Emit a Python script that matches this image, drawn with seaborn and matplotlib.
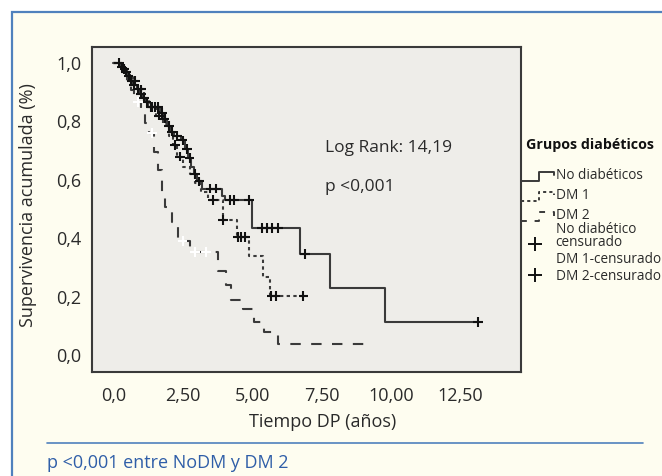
import numpy as np
import pandas as pd
import matplotlib
matplotlib.use("Agg")
import matplotlib.pyplot as plt
import seaborn as sns
from matplotlib.lines import Line2D
from matplotlib.patches import Rectangle
from matplotlib.legend_handler import HandlerBase

# ---------------- data ----------------
group_names = ["No diabéticos", "DM 1", "DM 2"]
censor_names = ["No diabético\ncensurado", "DM 1-censurado", "DM 2-censurado"]
legend_title = "Grupos diabéticos"

nodm_times = [0.0, 0.25, 0.4, 0.5, 0.6, 0.7, 0.85, 0.95, 1.05, 1.15, 1.25, 1.7, 1.8,
              1.93, 2.05, 2.2, 2.45, 2.6, 2.7, 2.8, 2.9, 3.0, 3.2, 3.9, 4.02, 5.0,
              6.73, 7.8, 9.79]
nodm_surv = [1.0, 0.985, 0.97, 0.955, 0.94, 0.925, 0.91, 0.895, 0.88, 0.865, 0.85, 0.83,
             0.81, 0.785, 0.765, 0.75, 0.735, 0.705, 0.675, 0.645, 0.62, 0.595, 0.57,
             0.545, 0.531, 0.435, 0.346, 0.23, 0.113]
nodm_end = 13.13
nodm_cens = [0.2, 0.3, 0.45, 0.55, 0.65, 0.75, 0.9, 1.0, 1.1, 1.2, 1.35, 1.5, 1.6, 1.75,
             1.85, 2.0, 2.1, 2.3, 2.5, 2.65, 2.75, 2.95, 3.1, 3.5, 3.7, 4.2, 4.35, 4.9,
             5.36, 5.54, 5.72, 5.93, 6.9, 13.13]

dm1_times = [0.0, 0.3, 0.5, 0.7, 0.9, 1.1, 1.3, 1.55, 1.8, 2.0, 2.15, 2.3, 2.5, 2.75,
             2.95, 3.15, 3.4, 3.95, 4.45, 4.89, 5.39, 5.64]
dm1_surv = [1.0, 0.98, 0.96, 0.94, 0.91, 0.88, 0.85, 0.82, 0.79, 0.75, 0.72, 0.68, 0.645,
            0.62, 0.59, 0.56, 0.53, 0.462, 0.404, 0.339, 0.267, 0.202]
dm1_end = 6.85
dm1_cens = [0.4, 0.8, 1.0, 1.4, 1.65, 2.22, 2.4, 3.6, 3.95, 4.5, 4.6, 4.75, 5.7, 5.85, 6.85]

dm2_times = [0.0, 0.3, 0.5, 0.65, 0.75, 1.0, 1.15, 1.3, 1.45, 1.6, 1.76, 1.85, 2.11,
             2.33, 2.75, 3.78, 4.06, 4.24, 4.67, 5.07, 5.43, 5.94]
dm2_surv = [1.0, 0.97, 0.94, 0.907, 0.866, 0.83, 0.795, 0.76, 0.695, 0.633, 0.558, 0.507,
            0.455, 0.39, 0.353, 0.288, 0.24, 0.19, 0.157, 0.113, 0.08, 0.037]
dm2_end = 9.05
dm2_cens = [0.9, 1.4, 2.5, 2.95, 3.35]

x_ticks = [0.0, 2.5, 5.0, 7.5, 10.0, 12.5]
x_ticklabels = ["0,0", "2,50", "5,00", "7,50", "10,00", "12,50"]
y_ticks = [0.0, 0.2, 0.4, 0.6, 0.8, 1.0]
y_ticklabels = ["0,0", "0,2", "0,4", "0,6", "0,8", "1,0"]

# ---------------- build tables ----------------
curve_rows = []
cens_rows = []
for name, tt, ss, end, cc in [
    (group_names[0], nodm_times, nodm_surv, nodm_end, nodm_cens),
    (group_names[1], dm1_times, dm1_surv, dm1_end, dm1_cens),
    (group_names[2], dm2_times, dm2_surv, dm2_end, dm2_cens),
]:
    for t, s in zip(list(tt) + [end], list(ss) + [ss[-1]]):
        curve_rows.append({"t": t, "s": s, "group": name})
    tt_a = np.asarray(tt)
    for c in cc:
        idx = np.searchsorted(tt_a, c, side="right") - 1
        cens_rows.append({"t": c, "s": ss[idx], "group": name})
curves = pd.DataFrame(curve_rows)
cens = pd.DataFrame(cens_rows)

# ---------------- style ----------------
sns.set_theme(style="white")
plt.rcParams["font.family"] = ["Open Sans", "DejaVu Sans"]

W, H = 662, 476
fig = plt.figure(figsize=(W / 100, H / 100), dpi=100, facecolor="white")

cream = "#fefdf0"
blue = "#4f81bd"
ink = "#2a2a2a"
line_col = "#3a3a3a"

fig.add_artist(Rectangle((12 / W, -0.5), 2.0, (H - 12) / H + 0.5, transform=fig.transFigure,
                         facecolor=cream, edgecolor=blue, lw=1.6, zorder=-10))

ax = fig.add_axes([92.3 / W, 1 - 372 / H, (521 - 92.3) / W, (372 - 47) / H])
ax.set_facecolor("#eeede9")

dash_map = {group_names[0]: "", group_names[1]: (1.6, 1.6), group_names[2]: (5.0, 5.0)}
sns.lineplot(data=curves, x="t", y="s", style="group", dashes=dash_map,
             style_order=group_names, units="group", estimator=None, sort=False,
             color=line_col, lw=1.5, drawstyle="steps-post", legend=False, ax=ax)

pal = {group_names[0]: "#111111", group_names[1]: "#111111", group_names[2]: "white"}
sns.scatterplot(data=cens, x="t", y="s", hue="group", palette=pal, marker="+",
                s=48, linewidth=1.5, legend=False, ax=ax, zorder=3)

ax.set_xlim(-0.756, 14.69)
ax.set_ylim(-0.058, 1.055)
ax.set_xticks(x_ticks)
ax.set_xticklabels(x_ticklabels)
ax.set_yticks(y_ticks)
ax.set_yticklabels(y_ticklabels)
for sp in ax.spines.values():
    sp.set_visible(True)
    sp.set_color(line_col)
    sp.set_linewidth(1.5)
ax.tick_params(axis="both", direction="out", length=6.5, width=1.4, color=line_col,
               labelsize=13, labelcolor=ink)
ax.tick_params(axis="y", pad=1.5)
ax.tick_params(axis="x", pad=4)

ax.set_xlabel("Tiempo DP (años)", fontsize=13, color=ink)
ax.set_ylabel("Supervivencia acumulada (%)", fontsize=13, color=ink)
ax.xaxis.set_label_coords(0.538, -0.125)
ax.yaxis.set_label_coords(-0.129, 0.515)

fig.text(325 / W, 1 - 148 / H, "Log Rank: 14,19", fontsize=12.5, color=ink, va="center", ha="left")
fig.text(325 / W, 1 - 187 / H, "p <0,001", fontsize=12.5, color=ink, va="center", ha="left")

# ---------------- legend ----------------
class StepHandler(HandlerBase):
    def create_artists(self, legend, orig_handle, xdescent, ydescent, width, height,
                       fontsize, trans):
        x0, y0 = -xdescent, -ydescent
        xm = x0 + 0.55 * width
        lo = y0 - 0.2 * height
        hi = y0 + 0.75 * height
        xs = [x0, xm, xm, x0 + width, x0 + width]
        ys = [lo, lo, hi, hi, y0 + 0.4 * height]
        ln = Line2D(xs, ys)
        ln.update_from(orig_handle)
        ln.set_data(xs, ys)
        ln.set_transform(trans)
        return [ln]


class ShiftedMarker(HandlerBase):
    def __init__(self, dy):
        super().__init__()
        self.dy = dy

    def create_artists(self, legend, orig_handle, xdescent, ydescent, width, height,
                       fontsize, trans):
        x0, y0 = -xdescent, -ydescent
        pos = ([x0 + 0.42 * width], [y0 + 0.5 * height - self.dy])
        ln = Line2D(*pos)
        ln.update_from(orig_handle)
        ln.set_data(*pos)
        ln.set_transform(trans)
        return [ln]


h0 = Line2D([], [], color=line_col, lw=1.4, ls="-")
h1 = Line2D([], [], color=line_col, lw=1.4, ls=(0, (1.6, 1.6)))
h2 = Line2D([], [], color=line_col, lw=1.4, ls=(0, (3.0, 4.0)))
c0 = Line2D([], [], ls="none", marker="+", ms=10, mew=1.4, color="#111111")
c1 = Line2D([], [], ls="none", marker="+", ms=10, mew=1.4, color="#111111")
c2 = Line2D([], [], ls="none", marker="+", ms=10, mew=1.4, color="white", alpha=0.0)

common = dict(loc="upper left", frameon=False, prop={"size": 9.8}, handlelength=2.4,
              handletextpad=0.15, borderpad=0, borderaxespad=0)

leg1 = fig.legend([h0, h1, h2], group_names, bbox_to_anchor=(521 / W, 1 - 168 / H),
                  labelspacing=0.38,
                  handler_map={h0: StepHandler(), h1: StepHandler(), h2: StepHandler()},
                  **common)
leg2 = fig.legend([c0, c1, c2], censor_names, bbox_to_anchor=(521 / W, 1 - 222 / H),
                  labelspacing=0.12,
                  handler_map={c0: ShiftedMarker(5.0), c1: ShiftedMarker(12.0),
                               c2: ShiftedMarker(0.0)},
                  **common)
for lg in (leg1, leg2):
    for t in lg.get_texts():
        t.set_color(ink)
        t.set_linespacing(0.85)

fig.text(526 / W, 1 - 145 / H, legend_title, fontsize=10.3, fontweight="bold",
         color="#111111", va="center", ha="left")

# ---------------- footer ----------------
fig.add_artist(Line2D([47 / W, 643 / W], [1 - 443 / H, 1 - 443 / H], transform=fig.transFigure,
                      color=blue, lw=1.2))
fig.text(47 / W, 1 - 463 / H, "p <0,001 entre NoDM y DM 2", fontsize=13, color="#2f5ea8",
         va="center", ha="left")

fig.savefig("out.png", dpi=100, facecolor=fig.get_facecolor())
